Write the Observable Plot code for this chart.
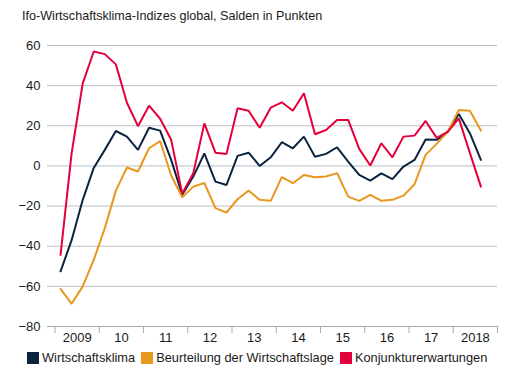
<!DOCTYPE html>
<html>
<head>
<meta charset="utf-8">
<script src="https://cdn.jsdelivr.net/npm/d3@7"></script>
<script src="https://cdn.jsdelivr.net/npm/@observablehq/plot@0.6"></script>
<style>
  html, body { margin: 0; padding: 0; background: #fff; }
  #wrap { position: relative; width: 518px; height: 385px; font-family: "Liberation Sans", Arial, sans-serif; color: #1a1a1a; }
  #title { position: absolute; left: 22px; top: 10px; font-size: 12.6px; line-height: 13px; white-space: nowrap; }
  #chart { position: absolute; left: 0; top: 0; }
  #legend { position: absolute; left: 27px; top: 351px; display: flex; gap: 6px; font-size: 12.8px; line-height: 14px; white-space: nowrap; }
  .item { display: flex; align-items: center; }
  .sw { width: 12px; height: 12px; margin-right: 3px; }
</style>
</head>
<body>
<div id="wrap">
  <div id="chart"></div>
  <div id="title"></div>
  <div id="legend"></div>
</div>
<script>
const titleText = "Ifo-Wirtschaftsklima-Indizes global, Salden in Punkten";

const quarters = [
  "2009Q1","2009Q2","2009Q3","2009Q4",
  "2010Q1","2010Q2","2010Q3","2010Q4",
  "2011Q1","2011Q2","2011Q3","2011Q4",
  "2012Q1","2012Q2","2012Q3","2012Q4",
  "2013Q1","2013Q2","2013Q3","2013Q4",
  "2014Q1","2014Q2","2014Q3","2014Q4",
  "2015Q1","2015Q2","2015Q3","2015Q4",
  "2016Q1","2016Q2","2016Q3","2016Q4",
  "2017Q1","2017Q2","2017Q3","2017Q4",
  "2018Q1","2018Q2","2018Q3"
];

const wirtschaftsklima = [
  -52.5, -37, -17, -1,
  8, 17.4, 14.6, 8,
  19, 17.6, 3, -14.4,
  -5.3, 6.2, -7.8, -9.5,
  5, 6.6, 0, 4.3,
  11.8, 8.8, 14.6, 4.6,
  6, 9.3, 2.2, -4.5,
  -7.3, -3.7, -6.6, -0.3,
  3, 13.2, 13, 17,
  25.9, 16.3, 3
];

const beurteilungLage = [
  -61.3, -68.7, -60, -46.8,
  -31, -12.3, -0.8, -2.8,
  8.8, 12.4, -4.8, -15.6,
  -10.3, -8.5, -21, -23.2,
  -16.6, -12.3, -16.9, -17.4,
  -5.6, -8.6, -4.5, -5.6,
  -5.3, -3.6, -15.3, -17.4,
  -14.4, -17.4, -16.9, -14.8,
  -9.1, 5.5, 11, 17,
  27.9, 27.5, 17.6
];

const konjunkturerwartungen = [
  -44.3, 6.3, 41, 57,
  55.7, 50.6, 31.5, 19.8,
  30, 23.5, 13, -13.8,
  -3.6, 21.2, 6.6, 6,
  28.7, 27.5, 19, 29,
  31.7, 27.5, 36.2, 15.8,
  17.9, 22.9, 22.9, 8.5,
  0.2, 11.3, 4.3, 14.6,
  15.1, 22.4, 14, 17,
  23.7, 6.5, -10.3
];

const seriesNames = ["Wirtschaftsklima", "Beurteilung der Wirtschaftslage", "Konjunkturerwartungen"];
const seriesColors = ["#0c2340", "#e8971f", "#e4003b"];

const yTicks = [-80, -60, -40, -20, 0, 20, 40, 60];
const yearBounds = [2009, 2010, 2011, 2012, 2013, 2014, 2015, 2016, 2017, 2018, 2019];
const yearLabels = ["2009", "10", "11", "12", "13", "14", "15", "16", "17", "2018"];

// build table
const seriesValues = [wirtschaftsklima, beurteilungLage, konjunkturerwartungen];
const toX = q => +q.slice(0, 4) + (+q.slice(5) - 0.5) / 4;
const rows = [];
seriesNames.forEach((name, i) => {
  quarters.forEach((q, j) => rows.push({x: toX(q), value: seriesValues[i][j], series: name}));
});
const labelRows = yearLabels.map((t, i) => ({x: yearBounds[i] + 0.5, label: t}));

const chart = Plot.plot({
  width: 518,
  height: 350,
  marginLeft: 47,
  marginRight: 21,
  marginTop: 45,
  marginBottom: 24,
  style: {fontFamily: "'Liberation Sans', Arial, sans-serif", fontSize: "13px", color: "#1a1a1a", background: "transparent"},
  x: {domain: [2008.83, 2019], axis: null, label: null},
  y: {domain: [-80, 60], axis: null, label: null},
  color: {domain: seriesNames, range: seriesColors},
  marks: [
    Plot.ruleY(yTicks.filter(d => d > -80), {stroke: "#b9c0c7", strokeWidth: 1}),
    Plot.ruleY([-80], {stroke: "#a3acb5", strokeWidth: 1}),
    Plot.axisX({ticks: yearBounds, tickSize: 7, tickFormat: () => "", label: null, stroke: "#a3acb5", strokeOpacity: 1}),
    Plot.text(labelRows, {x: "x", text: "label", frameAnchor: "bottom", dy: 15, fill: "#1a1a1a", fontSize: 13}),
    Plot.axisY({ticks: yTicks, tickSize: 0, tickPadding: 7, label: null, fill: "#1a1a1a", fontSize: 13}),
    Plot.line(rows, {x: "x", y: "value", z: "series", stroke: "series", strokeWidth: 2, strokeLinejoin: "miter"})
  ]
});
document.getElementById("chart").appendChild(chart);
document.getElementById("title").textContent = titleText;

const legend = document.getElementById("legend");
seriesNames.forEach((name, i) => {
  const item = document.createElement("div");
  item.className = "item";
  const sw = document.createElement("div");
  sw.className = "sw";
  sw.style.background = seriesColors[i];
  const lab = document.createElement("span");
  lab.textContent = name;
  item.appendChild(sw);
  item.appendChild(lab);
  legend.appendChild(item);
});
</script>
</body>
</html>
